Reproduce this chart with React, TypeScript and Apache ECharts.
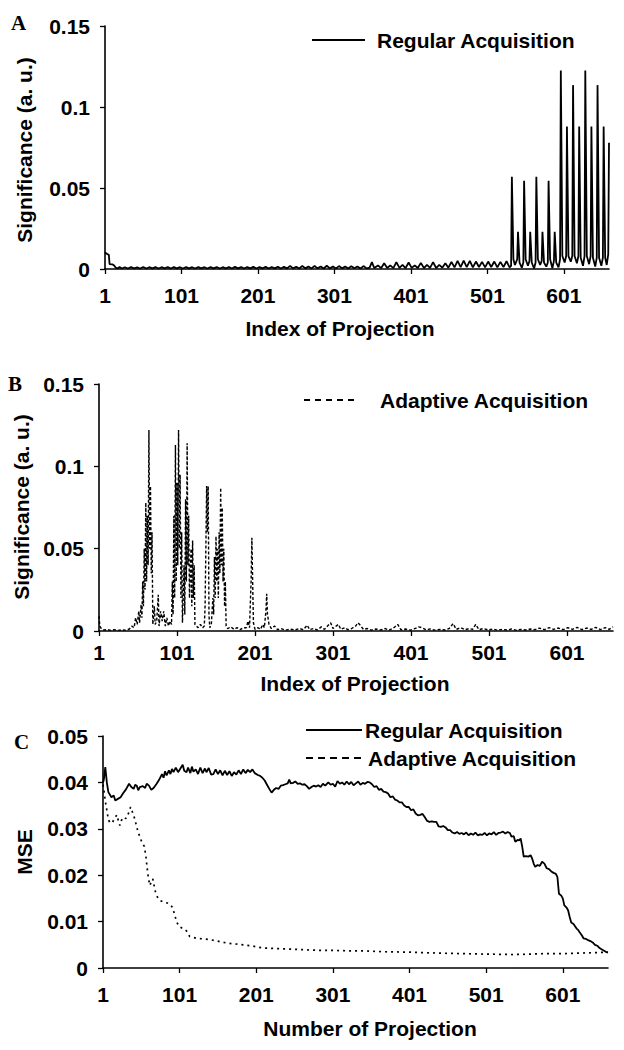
import React, { useEffect, useRef } from "react";
import * as echarts from "echarts";

// ---------- data ----------
const xTicks = [1, 101, 201, 301, 401, 501, 601];
const xMin = 1;
const xMax = 660;

const panelLetters = ["A", "B", "C"];
const sigTicks = [0, 0.05, 0.1, 0.15];
const mseTicks = [0, 0.01, 0.02, 0.03, 0.04, 0.05];

// Panel A: Regular Acquisition significance [index, value]
const regularSignificance: [number, number][] = [
  [1,0.0105],[2,0.0098],[4,0.0092],[6,0.0088],[7,0.0030],[11,0.0028],[13,0.0022],[15,0.0008],
  [18,0.0004],[20,0.0012],[23,0.0003],[27,0.0011],[31,0.0003],[35,0.0012],[39,0.0004],[43,0.0010],
  [47,0.0003],[51,0.0012],[55,0.0003],[59,0.0011],[63,0.0004],[67,0.0012],[71,0.0003],[75,0.0011],
  [79,0.0004],[83,0.0012],[87,0.0003],[91,0.0012],[95,0.0004],[99,0.0011],[103,0.0003],[107,0.0012],
  [111,0.0004],[115,0.0011],[119,0.0003],[123,0.0012],[127,0.0004],[131,0.0011],[135,0.0003],[139,0.0012],
  [143,0.0004],[147,0.0012],[151,0.0003],[155,0.0011],[159,0.0004],[163,0.0012],[167,0.0003],[171,0.0013],
  [175,0.0004],[179,0.0012],[183,0.0003],[187,0.0012],[191,0.0004],[195,0.0013],[199,0.0003],[203,0.0012],
  [207,0.0004],[211,0.0013],[215,0.0003],[219,0.0012],[223,0.0004],[227,0.0014],[231,0.0003],[235,0.0013],
  [239,0.0004],[243,0.0018],[247,0.0004],[251,0.0014],[255,0.0003],[259,0.0019],[263,0.0004],[267,0.0015],
  [271,0.0003],[275,0.0019],[279,0.0004],[283,0.0016],[287,0.0003],[291,0.0020],[295,0.0004],[299,0.0015],
  [303,0.0003],[307,0.0018],[311,0.0004],[315,0.0015],[319,0.0003],[323,0.0017],[327,0.0004],[331,0.0016],
  [335,0.0003],[339,0.0018],[343,0.0004],[347,0.0008],[350,0.0042],[353,0.0006],[358,0.0022],[362,0.0005],
  [366,0.0036],[370,0.0006],[374,0.0022],[378,0.0005],[382,0.0042],[386,0.0007],[390,0.0025],[394,0.0005],
  [398,0.0040],[402,0.0007],[406,0.0022],[410,0.0006],[414,0.0038],[418,0.0006],[422,0.0026],[426,0.0007],
  [430,0.0042],[434,0.0006],[438,0.0025],[442,0.0008],[446,0.0036],[450,0.0008],[454,0.0044],[458,0.0010],
  [462,0.0050],[466,0.0012],[470,0.0052],[474,0.0012],[478,0.0050],[482,0.0010],[486,0.0046],[490,0.0012],
  [494,0.0044],[498,0.0010],[502,0.0046],[506,0.0012],[510,0.0046],[514,0.0010],[518,0.0044],[522,0.0012],
  [526,0.0048],[530,0.0010],
  [532,0.0020],[533,0.0570],[535,0.0060],[537,0.0025],[540,0.0060],[541,0.0230],[543,0.0040],[546,0.0008],
  [548,0.0040],[549,0.0545],[551,0.0060],[554,0.0020],[556,0.0050],[557,0.0230],[559,0.0040],[562,0.0003],
  [564,0.0040],[565,0.0570],[567,0.0060],[570,0.0025],[572,0.0050],[573,0.0230],[575,0.0040],[578,0.0015],
  [580,0.0040],[581,0.0545],[583,0.0060],[586,0.0005],[588,0.0050],[589,0.0230],[591,0.0040],[594,0.0010],
  [596,0.0060],[597,0.1225],[599,0.0080],[602,0.0040],[604,0.0080],[605,0.0880],[607,0.0080],[610,0.0045],
  [612,0.0080],[613,0.1135],[615,0.0080],[618,0.0035],[620,0.0080],[621,0.0880],[623,0.0070],[626,0.0020],
  [628,0.0080],[629,0.1225],[631,0.0080],[634,0.0030],[636,0.0080],[637,0.0880],[639,0.0070],[642,0.0015],
  [644,0.0070],[645,0.1135],[647,0.0070],[650,0.0020],[652,0.0070],[653,0.0880],[655,0.0070],[657,0.0025],
  [659,0.0090],[660,0.0780],
];

// Panel B: Adaptive Acquisition significance [index, value]
const adaptiveSignificance: [number, number][] = [
  [1,0.0090],[2,0.0030],[4,0.0015],[7,0.0006],[12,0.0008],[16,0.0004],[20,0.0008],[25,0.0004],
  [30,0.0007],[35,0.0005],[40,0.0012],[43,0.0030],[46,0.0020],[48,0.0080],[50,0.0040],[52,0.0120],
  [53,0.0050],[55,0.0160],[56,0.0080],[57,0.0300],[58,0.0150],[59,0.0500],[60,0.0250],[61,0.0780],
  [62,0.0300],[63,0.0700],[64,0.0400],[65,0.1220],[66,0.0500],[67,0.0880],[68,0.0350],[69,0.0600],
  [70,0.0040],[72,0.0150],[73,0.0040],[75,0.0060],[77,0.0220],[78,0.0030],[80,0.0120],[82,0.0060],
  [84,0.0120],[86,0.0030],[88,0.0080],[90,0.0030],[92,0.0060],[94,0.0040],[95,0.0300],[96,0.0100],
  [97,0.0700],[98,0.0200],[99,0.1130],[100,0.0300],[101,0.0900],[102,0.0400],[103,0.1220],[104,0.0500],
  [105,0.0950],[106,0.0200],[107,0.0600],[108,0.0050],[110,0.0400],[111,0.0100],[112,0.0800],[113,0.0300],
  [114,0.1140],[115,0.0400],[116,0.0700],[117,0.0200],[119,0.0500],[120,0.0150],[121,0.0550],[122,0.0200],
  [123,0.0400],[124,0.0040],[126,0.0030],[128,0.0020],[131,0.0040],[134,0.0020],[136,0.0030],[137,0.0150],
  [138,0.0500],[139,0.0880],[140,0.0600],[141,0.0880],[142,0.0100],[143,0.0020],[145,0.0040],[147,0.0200],
  [148,0.0100],[149,0.0450],[150,0.0200],[151,0.0576],[152,0.0300],[153,0.0500],[154,0.0200],[155,0.0600],
  [156,0.0350],[157,0.0870],[158,0.0400],[159,0.0750],[160,0.0300],[161,0.0500],[162,0.0150],[163,0.0300],
  [164,0.0030],[166,0.0015],[170,0.0025],[174,0.0010],[178,0.0020],[182,0.0008],[186,0.0020],[190,0.0020],
  [192,0.0060],[194,0.0020],[196,0.0300],[197,0.0566],[198,0.0300],[199,0.0050],[201,0.0010],[205,0.0020],
  [208,0.0010],[211,0.0040],[213,0.0020],[215,0.0120],[216,0.0226],[217,0.0100],[219,0.0040],[222,0.0015],
  [226,0.0030],[230,0.0008],[234,0.0015],[240,0.0005],[246,0.0012],[252,0.0006],[258,0.0015],[263,0.0008],
  [268,0.0035],[271,0.0008],[276,0.0015],[281,0.0006],[286,0.0025],[290,0.0010],[294,0.0030],[298,0.0050],
  [301,0.0015],[305,0.0030],[308,0.0040],[311,0.0010],[316,0.0020],[320,0.0008],[325,0.0015],[330,0.0030],
  [333,0.0050],[336,0.0035],[340,0.0010],[345,0.0015],[350,0.0005],[356,0.0012],[362,0.0006],[368,0.0015],
  [373,0.0005],[379,0.0020],[384,0.0040],[388,0.0008],[394,0.0012],[400,0.0005],[406,0.0015],[411,0.0025],
  [415,0.0020],[420,0.0008],[426,0.0012],[432,0.0005],[438,0.0010],[444,0.0006],[450,0.0015],[455,0.0045],
  [459,0.0010],[465,0.0020],[470,0.0008],[476,0.0015],[480,0.0010],[484,0.0040],[488,0.0008],[494,0.0015],
  [500,0.0006],[506,0.0012],[512,0.0005],[518,0.0010],[524,0.0006],[530,0.0012],[536,0.0005],[542,0.0010],
  [548,0.0006],[554,0.0012],[560,0.0008],[566,0.0018],[572,0.0008],[578,0.0020],[584,0.0010],[590,0.0018],
  [596,0.0008],[602,0.0020],[608,0.0010],[614,0.0022],[620,0.0008],[626,0.0018],[632,0.0010],[638,0.0022],
  [644,0.0008],[650,0.0020],[655,0.0010],[660,0.0025],
];

// Panel C: MSE, Regular Acquisition [number, value]
const regularMSE: [number, number][] = [
  [1,0.0400],[2,0.0405],[4,0.0433],[6,0.0400],[8,0.0379],[12,0.0368],[15,0.0372],[17,0.0361],
  [21,0.0365],[24,0.0368],[27,0.0376],[31,0.0385],[35,0.0397],[38,0.0390],[41,0.0386],[43,0.0395],
  [45,0.0393],[47,0.0383],[49,0.0390],[53,0.0392],[56,0.0388],[58,0.0397],[61,0.0393],[64,0.0384],
  [67,0.0388],[71,0.0397],[74,0.0405],[78,0.0418],[80,0.0410],[82,0.0424],[84,0.0415],[87,0.0426],
  [89,0.0418],[91,0.0429],[93,0.0422],[96,0.0432],[99,0.0422],[102,0.0430],[105,0.0438],[107,0.0425],
  [110,0.0422],[112,0.0432],[115,0.0420],[117,0.0434],[119,0.0423],[122,0.0428],[125,0.0418],[128,0.0432],
  [131,0.0420],[134,0.0430],[136,0.0422],[139,0.0431],[142,0.0417],[145,0.0418],[148,0.0428],[151,0.0418],
  [154,0.0426],[157,0.0415],[160,0.0425],[163,0.0416],[166,0.0424],[169,0.0414],[172,0.0422],[175,0.0417],
  [178,0.0426],[181,0.0418],[184,0.0428],[187,0.0420],[190,0.0427],[193,0.0422],[196,0.0428],[199,0.0420],
  [203,0.0416],[206,0.0414],[209,0.0410],[212,0.0404],[215,0.0395],[218,0.0386],[221,0.0378],[224,0.0384],
  [227,0.0388],[230,0.0386],[233,0.0393],[236,0.0394],[239,0.0396],[242,0.0398],[244,0.0406],[246,0.0398],
  [249,0.0399],[252,0.0402],[255,0.0397],[258,0.0398],[261,0.0395],[264,0.0396],[267,0.0392],[270,0.0386],
  [273,0.0390],[276,0.0393],[279,0.0391],[282,0.0394],[285,0.0390],[288,0.0397],[291,0.0393],[295,0.0400],
  [298,0.0395],[301,0.0397],[304,0.0391],[307,0.0403],[310,0.0397],[313,0.0400],[316,0.0395],[319,0.0402],
  [322,0.0396],[325,0.0401],[328,0.0394],[331,0.0398],[334,0.0402],[337,0.0395],[340,0.0399],[343,0.0397],
  [346,0.0401],[349,0.0400],[352,0.0396],[355,0.0390],[358,0.0392],[361,0.0384],[364,0.0386],[367,0.0380],
  [370,0.0379],[373,0.0376],[376,0.0368],[379,0.0370],[382,0.0363],[385,0.0361],[388,0.0357],[391,0.0357],
  [394,0.0350],[397,0.0347],[400,0.0347],[403,0.0340],[406,0.0342],[409,0.0333],[412,0.0329],[415,0.0330],
  [418,0.0332],[421,0.0325],[424,0.0317],[427,0.0315],[430,0.0316],[433,0.0315],[436,0.0315],[439,0.0305],
  [442,0.0304],[445,0.0306],[448,0.0303],[451,0.0297],[454,0.0297],[457,0.0292],[460,0.0290],[463,0.0293],
  [466,0.0289],[469,0.0291],[472,0.0288],[475,0.0292],[478,0.0286],[481,0.0290],[484,0.0287],[487,0.0292],
  [490,0.0286],[493,0.0288],[496,0.0287],[499,0.0291],[502,0.0286],[505,0.0290],[508,0.0288],[511,0.0293],
  [514,0.0287],[517,0.0291],[520,0.0292],[523,0.0294],[526,0.0290],[529,0.0293],[532,0.0291],[534,0.0283],
  [537,0.0284],[539,0.0272],[542,0.0276],[544,0.0275],[546,0.0279],[548,0.0262],[550,0.0240],[553,0.0241],
  [556,0.0240],[559,0.0243],[561,0.0236],[563,0.0225],[565,0.0218],[568,0.0222],[571,0.0220],[574,0.0229],
  [577,0.0225],[580,0.0215],[583,0.0213],[586,0.0208],[589,0.0205],[592,0.0203],[594,0.0196],[596,0.0160],
  [599,0.0156],[601,0.0150],[603,0.0135],[606,0.0130],[608,0.0124],[610,0.0110],[612,0.0098],[615,0.0095],
  [617,0.0090],[619,0.0085],[621,0.0082],[623,0.0077],[626,0.0070],[628,0.0064],[631,0.0063],[634,0.0060],
  [637,0.0058],[640,0.0055],[643,0.0050],[646,0.0048],[649,0.0043],[652,0.0040],[655,0.0037],[658,0.0034],
  [660,0.0033],
];

// Panel C: MSE, Adaptive Acquisition [number, value]
const adaptiveMSE: [number, number][] = [
  [1,0.0395],[2,0.0385],[4,0.0360],[6,0.0340],[8,0.0320],[10,0.0313],[13,0.0313],[16,0.0322],
  [19,0.0330],[21,0.0318],[23,0.0307],[25,0.0318],[28,0.0325],[31,0.0322],[34,0.0332],[37,0.0347],
  [39,0.0338],[41,0.0329],[43,0.0318],[45,0.0304],[47,0.0292],[49,0.0283],[52,0.0270],[55,0.0262],
  [57,0.0240],[59,0.0210],[60,0.0197],[62,0.0178],[64,0.0185],[66,0.0192],[68,0.0175],[70,0.0160],
  [73,0.0150],[76,0.0145],[80,0.0142],[85,0.0140],[88,0.0138],[91,0.0132],[94,0.0118],[97,0.0100],
  [100,0.0090],[104,0.0086],[108,0.0083],[111,0.0078],[114,0.0068],[118,0.0066],[123,0.0064],[130,0.0063],
  [141,0.0061],[150,0.0058],[162,0.0054],[172,0.0052],[184,0.0050],[197,0.0047],[210,0.0043],[225,0.0042],
  [241,0.0041],[255,0.0040],[267,0.0039],[285,0.0038],[301,0.0038],[320,0.0037],[340,0.0037],[370,0.0035],
  [404,0.0034],[440,0.0032],[470,0.0031],[500,0.0030],[535,0.0029],[560,0.0030],[578,0.0031],[600,0.0031],
  [622,0.0032],[640,0.0033],[660,0.0034],
];

const seriesNames = ["Regular Acquisition", "Adaptive Acquisition"];
const yNames = ["Significance (a. u.)", "Significance (a. u.)", "MSE"];
const xNames = ["Index of Projection", "Index of Projection", "Number of Projection"];

// ---------- styling ----------
const FONT = '"Liberation Sans", Arial, sans-serif';
const FS = 21;
const labelStyle = { fontFamily: FONT, fontWeight: "bold" as const, fontSize: FS, color: "#000" };
const grids = [
  { left: 105, right: 15, top: 26, height: 243 },
  { left: 99, right: 11, top: 384, height: 247 },
  { left: 103, right: 16, top: 736, height: 232 },
];
const xLabelMargins = [16, 11, 16];

function makeXAxis(i: number) {
  return {
    type: "value",
    gridIndex: i,
    min: xMin,
    max: xMax,
    axisLine: { show: true, lineStyle: { color: "#000", width: 1.6 } },
    axisTick: { show: true, length: 5, customValues: xTicks, lineStyle: { color: "#000", width: 1.3 } },
    axisLabel: { ...labelStyle, margin: xLabelMargins[i], customValues: xTicks },
    splitLine: { show: false },
  };
}

function makeYAxis(i: number, max: number, interval: number) {
  return {
    type: "value",
    gridIndex: i,
    min: 0,
    max,
    interval,
    axisLine: { show: true, lineStyle: { color: "#000", width: 1.6 } },
    axisTick: { show: true, length: 5, lineStyle: { color: "#000", width: 1.3 } },
    axisLabel: { ...labelStyle, margin: 15 },
    splitLine: { show: false },
  };
}

function lineSeries(name: string, data: [number, number][], i: number, dash: any, width: number) {
  return {
    name,
    type: "line",
    xAxisIndex: i,
    yAxisIndex: i,
    data,
    showSymbol: false,
    symbol: "none",
    lineStyle: { color: "#000", width, type: dash },
    z: 3,
  };
}

function txt(text: string, x: number, y: number, extra: any = {}) {
  return {
    type: "text",
    x,
    y,
    silent: true,
    style: {
      text,
      fill: "#000",
      font: `bold ${FS}px ${FONT}`,
      align: "left",
      verticalAlign: "middle",
      ...extra,
    },
  };
}

function legendLine(x1: number, x2: number, y: number, dash: any) {
  return {
    type: "line",
    silent: true,
    shape: { x1, y1: y, x2, y2: y },
    style: { stroke: "#000", lineWidth: 1.8, lineDash: dash },
  };
}

const LETTER_FONT = 'bold 21px "Liberation Serif", "Times New Roman", serif';

export default function App() {
  const ref = useRef<HTMLDivElement>(null);
  useEffect(() => {
    if (!ref.current) return;
    const chart = echarts.init(ref.current, null, { renderer: "svg" });
    const option: any = {
      animation: false,
      backgroundColor: "#fff",
      grid: grids,
      xAxis: [makeXAxis(0), makeXAxis(1), makeXAxis(2)],
      yAxis: [
        makeYAxis(0, sigTicks[sigTicks.length - 1], 0.05),
        makeYAxis(1, sigTicks[sigTicks.length - 1], 0.05),
        makeYAxis(2, mseTicks[mseTicks.length - 1], 0.01),
      ],
      series: [
        lineSeries(seriesNames[0], regularSignificance, 0, "solid", 1.8),
        lineSeries(seriesNames[1], adaptiveSignificance, 1, [3, 2], 1.4),
        lineSeries(seriesNames[0], regularMSE, 2, "solid", 1.8),
        lineSeries(seriesNames[1], adaptiveMSE, 2, [2, 4], 1.7),
      ],
      graphic: [
        // panel letters
        txt(panelLetters[0], 11, 23, { font: LETTER_FONT }),
        txt(panelLetters[1], 8, 384, { font: LETTER_FONT }),
        txt(panelLetters[2], 14, 742, { font: LETTER_FONT }),
        // legends
        legendLine(312, 365, 40, null),
        txt(seriesNames[0], 377, 40),
        legendLine(304, 358, 400, [6, 5]),
        txt(seriesNames[1], 380, 400),
        legendLine(306, 362, 730, null),
        txt(seriesNames[0], 365, 730),
        legendLine(306, 362, 758, [7, 5]),
        txt(seriesNames[1], 368, 758),
        // axis names
        txt(xNames[0], 340, 328, { align: "center" }),
        txt(xNames[1], 355, 683, { align: "center" }),
        txt(xNames[2], 370, 1028, { align: "center" }),
        { ...txt(yNames[0], 24, 150, { align: "center" }), rotation: Math.PI / 2 },
        { ...txt(yNames[1], 21, 507, { align: "center" }), rotation: Math.PI / 2 },
        { ...txt(yNames[2], 24, 852, { align: "center" }), rotation: Math.PI / 2 },
      ],
    };
    chart.setOption(option);
    return () => chart.dispose();
  }, []);
  return (
    <div
      ref={ref}
      style={{ position: "absolute", left: 0, top: 0, width: 624, height: 1050, background: "#fff" }}
    />
  );
}
